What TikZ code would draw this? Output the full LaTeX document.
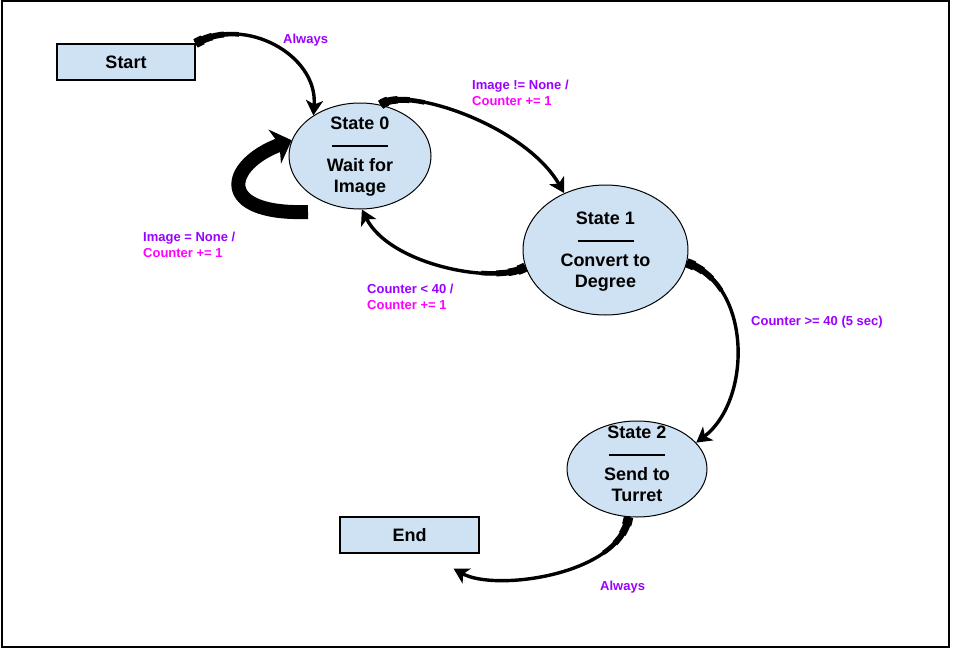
\documentclass[tikz,border=0pt]{standalone}
\usepackage{fontspec}
\setmainfont{Liberation Sans}
\usetikzlibrary{arrows.meta,shapes.geometric}
\definecolor{nodefill}{HTML}{CFE2F3}
\definecolor{condcol}{HTML}{9900FF}
\definecolor{actcol}{HTML}{FF00FF}
\begin{document}
\begin{tikzpicture}[x=1pt,y=-1pt,
  statebox/.style={draw=black, line width=1pt, fill=nodefill, ellipse, inner sep=0pt},
  termbox/.style={draw=black, line width=1.2pt, fill=nodefill, rectangle, inner sep=0pt,
    minimum width=138pt, minimum height=36pt, font=\fontsize{18}{21}\selectfont\bfseries},
  stext/.style={align=center, inner sep=0pt, anchor=north, font=\fontsize{18}{21}\selectfont\bfseries},
  lbl/.style={align=left, inner sep=0pt, anchor=north west, text=condcol,
    font=\fontsize{13}{16}\selectfont\bfseries},
  conn/.style={draw=black, line width=3.4pt, line cap=butt,
    -{Stealth[length=15pt,width=17pt,inset=4pt]},
    postaction={draw, -, line width=9.5pt, dash pattern=on 8pt off 3000pt},
    postaction={draw, -, line width=7.5pt, dash pattern=on 18pt off 3000pt},
    postaction={draw, -, line width=6pt, dash pattern=on 30pt off 3000pt},
    postaction={draw, -, line width=4.6pt, dash pattern=on 45pt off 3000pt}},
  loopconn/.style={draw=black, line width=14pt, line cap=butt,
    -{Stealth[length=18pt,width=36pt,inset=5pt]}},
]
\useasboundingbox (0,0) rectangle (962,656);
\draw[line width=1.2pt] (2,1) rectangle (949,647);

% terminal boxes
\node[termbox] (start) at (126,62) {Start};
\node[termbox, minimum width=139pt] (end) at (409.5,535) {End};

% states
\node[statebox, minimum width=142pt, minimum height=106pt] (s0) at (360,156) {};
\node[statebox, minimum width=165pt, minimum height=130pt] (s1) at (605.5,250) {};
\node[statebox, minimum width=140pt, minimum height=96pt] (s2) at (637,469) {};

\node[stext] (t0) at (360,117) {State 0\\\rule[4pt]{56pt}{1.8pt}\\Wait for\\Image};
\node[stext] (t1) at (605.5,212) {State 1\\\rule[4pt]{56pt}{1.8pt}\\Convert to\\Degree};
\node[stext] (t2) at (637,426) {State 2\\\rule[4pt]{56pt}{1.8pt}\\Send to\\Turret};

% helper coordinates
\coordinate (loopT) at ([shift={(-52,56)}]s0.center);
\coordinate (endtip) at ([shift={(-26,15)}]end.south east);

% connectors
\draw[conn] (start.north east) .. controls (245,15) and (318,55) .. (s0.139);
\draw[conn] (s0.68) .. controls (405,85) and (525,125) .. (s1.126);
\draw[conn] (s1.192) .. controls (495,285) and (390,265) .. (s0.272);
\draw[loopconn] (loopT) .. controls (215,215) and (225,165) .. (s0.167);
\draw[conn] (s1.351) .. controls (752,285) and (752,400) .. (s2.24);
\draw[conn] (s2.260) .. controls (620,575) and (495,592) .. (endtip);

% labels
\node[lbl] (l1) at (283,33.6) {Always};
\node[lbl] (l2) at (472,79.5) {Image != None /\\\textcolor{actcol}{Counter += 1}};
\node[lbl] (l3) at (143,231.5) {Image = None /\\\textcolor{actcol}{Counter += 1}};
\node[lbl] (l4) at (367,283.5) {Counter < 40 /\\\textcolor{actcol}{Counter += 1}};
\node[lbl] (l5) at (751,316) {Counter >= 40 (5 sec)};
\node[lbl] (l6) at (600,580.6) {Always};
\end{tikzpicture}
\end{document}
